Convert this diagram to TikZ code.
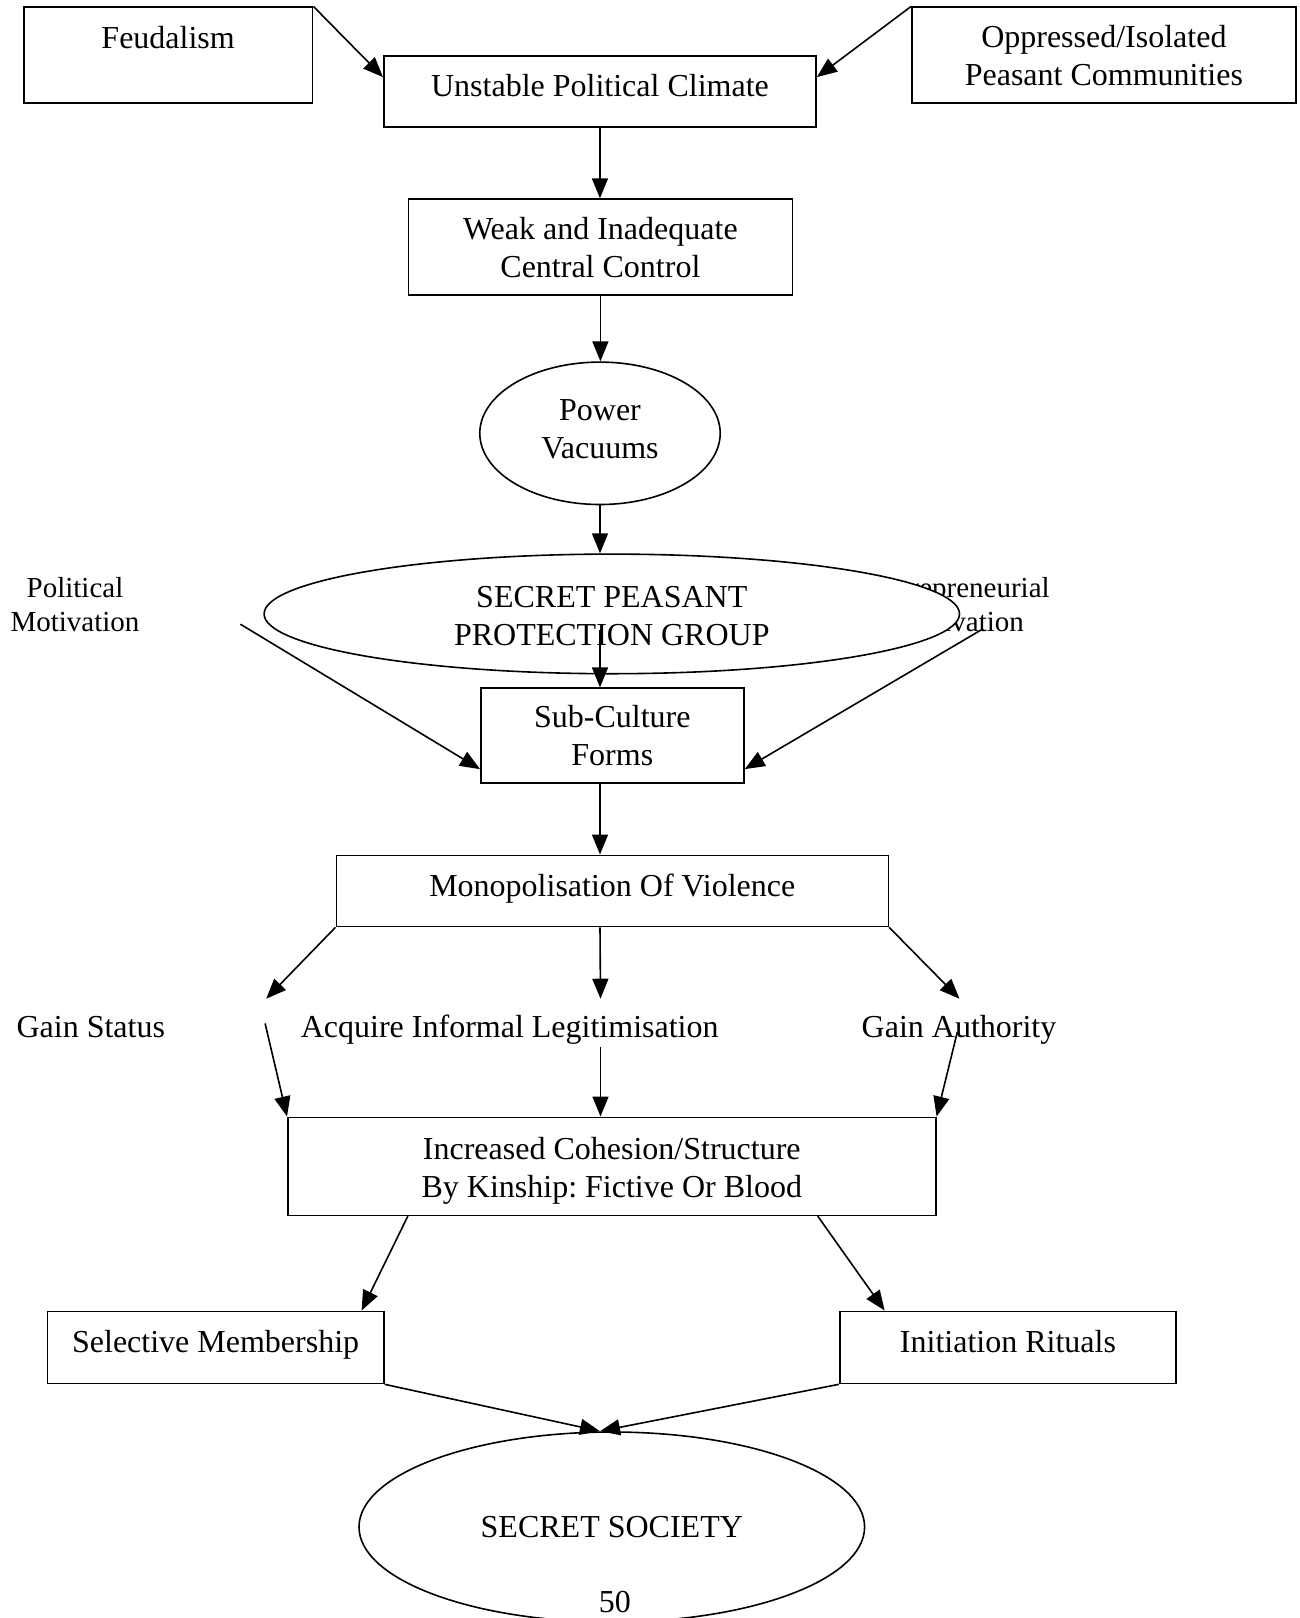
\documentclass[tikz,border=0pt]{standalone}
\usepackage{fontspec}
\setmainfont{Liberation Serif}
\usetikzlibrary{arrows.meta,calc,shapes.geometric}
\frenchspacing

% shift a line of text vertically without changing the size TikZ sees
\newcommand{\liftline}[2]{\raisebox{#1}[\height][\depth]{#2}}

\tikzset{
  base/.style={font=\fontsize{16}{19}\selectfont, align=center},
  small/.style={font=\fontsize{14.5}{17}\selectfont, align=center},
  box/.style={base, draw, line width=0.8pt, rectangle, inner xsep=0pt, inner ysep=0pt},
  oval/.style={base, draw, line width=0.8pt, ellipse, inner sep=0pt},
  arr/.style={line width=0.8pt, -{Triangle[length=10pt,width=8pt]}},
}

\begin{document}
\begin{tikzpicture}[x=0.5pt,y=-0.5pt]
\clip (0,0) rectangle (1300,1618);
\fill[white] (0,0) rectangle (1300,1618);

% top row
\node[box, minimum width=144.45pt, text height=20.4pt, text depth=27.6pt] (feud) at (168.15,55.2) {Feudalism};
\node[box, minimum width=216.15pt, text height=20.2pt, text depth=15.4pt] (unst) at (599.95,91.3) {Unstable Political Climate};
\node[box, minimum width=191.9pt, minimum height=48pt] (opp) at (1103.9,55.2) {Oppressed/Isolated\\Peasant Communities};

\node[box, minimum width=191.9pt, minimum height=48pt] (weak) at (600.4,247.1) {Weak and Inadequate\\Central Control};
\node[oval, minimum width=120.2pt, minimum height=71.2pt] (power) at (600,433.3) {\liftline{1.8pt}{Power}\\\liftline{1.8pt}{Vacuums}};

% side motivations (partly covered by the group ellipse)
\node[small] (polit) at (75,605) {Political\\Motivation};
\node[small] (entre) at (959.5,605) {Entrepreneurial\\Motivation};
\node[oval, fill=white, minimum width=347.7pt, minimum height=59.8pt] (sppg) at (611.8,613.9) {\liftline{-1.2pt}{SECRET PEASANT}\\\liftline{-1.2pt}{PROTECTION GROUP}};

\node[box, minimum width=131.55pt, minimum height=47.45pt] (sub) at (612.35,735.65) {Sub-Culture\\Forms};
\node[box, minimum width=276pt, text height=20.6pt, text depth=15pt] (mono) at (612.3,890.9) {Monopolisation Of Violence};

% outcomes
\node[base, anchor=base] (gstat) at (90.8,1037.5) {Gain Status};
\node[base, anchor=base] (acq) at (509.7,1037.5) {Acquire Informal Legitimisation};
\node[base, anchor=base] (gauth) at (959,1037.5) {Gain Authority};

\node[box, minimum width=324pt, minimum height=49pt] (incr) at (611.8,1166.3) {\liftline{-2.4pt}{Increased Cohesion/Structure}\\\liftline{-2.4pt}{By Kinship: Fictive Or Blood}};

\node[box, minimum width=168.15pt, text height=20.6pt, text depth=15.5pt] (sel) at (215.65,1347.4) {Selective Membership};
\node[box, minimum width=168.15pt, text height=20.6pt, text depth=15.5pt] (init) at (1007.95,1347.4) {Initiation Rituals};

\node[oval, minimum width=252.8pt, minimum height=95pt] (soc) at (611.8,1527) {SECRET SOCIETY};
\node[base] (pnum) at (614.9,1602.2) {50};

% loose connector ends
\coordinate (polstart) at (240.4,624.2);
\coordinate (entstart) at (982.2,629.3);
\coordinate (gsin) at (266.2,998.7);
\coordinate (gsout) at (265.1,1023.4);
\coordinate (acqin) at (600.5,998.7);
\coordinate (acqout) at (600.5,1047.2);
\coordinate (gain) at (959.5,998.7);
\coordinate (gaout) at (957.4,1031.7);

% connectors
\draw[arr] (feud.north east) -- ($(unst.north west)!0.305!(unst.south west)$);
\draw[arr] (opp.north west) -- ($(unst.north east)!0.305!(unst.south east)$);
\draw[arr] (unst.south) -- (unst.south |- weak.north);
\draw[arr] (weak.south) -- (weak.south |- power.north);
\draw[arr] (power.south) -- (power.south |- sppg.north);
\draw[arr] ($(power.south |- sppg.center)+(0,16)$) -- (power.south |- sub.north);
\draw[arr] (polstart) -- ($(sub.north west)!0.847!(sub.south west)$);
\draw[arr] (entstart) -- ($(sub.north east)!0.847!(sub.south east)$);
\draw[arr] (power.south |- sub.south) -- (power.south |- mono.north);
\draw[arr] (mono.south west) -- (gsin);
\draw[arr] (power.south |- mono.south) -- (acqin);
\draw[arr] (mono.south east) -- (gain);
\draw[arr] (gsout) -- (incr.north west);
\draw[arr] (acqout) -- (acqout |- incr.north);
\draw[arr] (gaout) -- (incr.north east);
\draw[arr] ($(incr.south west)!0.186!(incr.south east)$) -- ($(sel.north west)!0.932!(sel.north east)$);
\draw[arr] ($(incr.south west)!0.817!(incr.south east)$) -- ($(init.north west)!0.135!(init.north east)$);
\draw[arr] (sel.south east) -- (power.south |- soc.north);
\draw[arr] (init.south west) -- (power.south |- soc.north);
\end{tikzpicture}
\end{document}
